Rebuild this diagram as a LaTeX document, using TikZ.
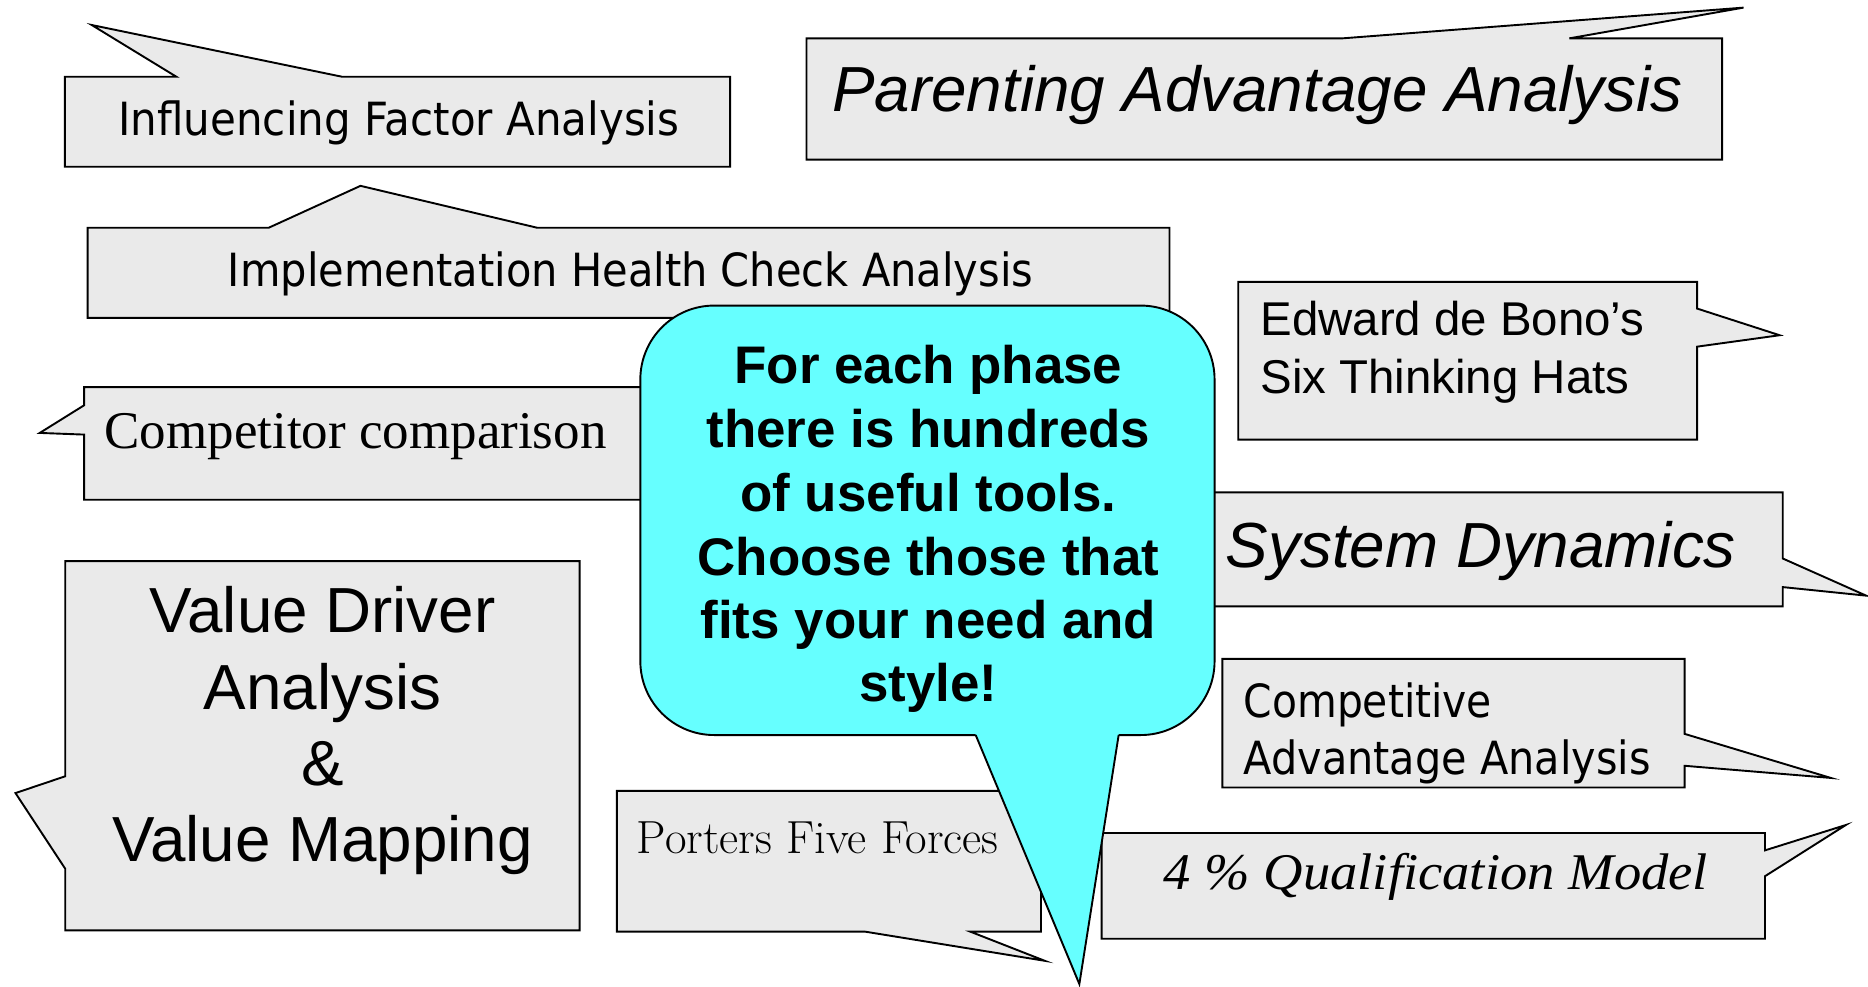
\documentclass[tikz,border=0pt]{standalone}
\usepackage{fontspec}
\usepackage{graphicx}
\newfontfamily\arialf{Liberation Sans}
\newfontfamily\timesf{Liberation Serif}
\newfontfamily\tahomaf{DejaVu Sans}
\newcommand{\hfit}[2]{\resizebox{#1}{\height}{#2}}
\definecolor{boxgray}{RGB}{234,234,234}
\definecolor{calloutcyan}{RGB}{102,255,255}
\tikzset{
  gbox/.style={fill=boxgray, draw=black, line width=0.8pt, line join=miter},
  cfill/.style={fill=calloutcyan, draw=none},
  cline/.style={draw=black, line width=0.8pt, line join=miter},
  lbl/.style={inner sep=0pt, outer sep=0pt, anchor=base west, text=black},
  clbl/.style={inner sep=0pt, outer sep=0pt, anchor=base, text=black},
  tahoma/.style={font=\tahomaf\fontsize{19.2pt}{23pt}\selectfont},
  arialbig/.style={font=\arialf\fontsize{26.75pt}{32pt}\selectfont},
  arialbigit/.style={font=\arialf\itshape\fontsize{26.75pt}{32pt}\selectfont},
  arialmid/.style={font=\arialf\fontsize{19.9pt}{24pt}\selectfont},
  arialbold/.style={font=\arialf\bfseries\fontsize{22.2pt}{27pt}\selectfont},
}
\begin{document}
\begin{tikzpicture}[x=0.5pt,y=-0.5pt]
\useasboundingbox (0,0) rectangle (1568,827.7);

% Influencing Factor Analysis
\draw[gbox] (54.4,64.4) -- (148,64.4) -- (77,21) -- (287,64.4) -- (612.9,64.4)
  -- (612.9,140) -- (54.4,140) -- cycle;
\node[lbl, tahoma] (tifa) at (99.3,113.4) {\hfit{235.5pt}{Influencing Factor Analysis}};

% Parenting Advantage Analysis
\draw[gbox] (677,32.2) -- (1126.8,32.2) -- (1463.5,6.4) -- (1317.3,32.2) -- (1445.5,32.2)
  -- (1445.5,134) -- (677,134) -- cycle;
\node[lbl, arialbigit] (tpaa) at (698.6,93.8) {Parenting Advantage Analysis};

% Implementation Health Check Analysis
\draw[gbox] (73.6,191.2) -- (225.5,191.2) -- (302.6,156) -- (451,191.2) -- (981.7,191.2)
  -- (981.7,266.8) -- (73.6,266.8) -- cycle;
\node[lbl, tahoma] (tihc) at (191.3,240.2) {\hfit{338pt}{Implementation Health Check Analysis}};

% Competitor comparison
\draw[gbox] (70.6,325) -- (700,325) -- (700,419.5) -- (70.6,419.5) -- (70.6,364.8)
  -- (33.4,363.4) -- (70.6,340.2) -- cycle;
\node[lbl, font=\timesf\fontsize{22.25pt}{27pt}\selectfont] (tcc) at (87.7,376.6) {Competitor comparison};

% Edward de Bono
\draw[gbox] (1039.4,236.6) -- (1424.5,236.6) -- (1424.5,259) -- (1493.8,281.4) -- (1424.5,291)
  -- (1424.5,369) -- (1039.4,369) -- cycle;
\node[lbl, arialmid] (tedw1) at (1058,281.3) {Edward de Bono’s};
\node[lbl, arialmid] (tedw2) at (1058,330.2) {Six Thinking Hats};

% System Dynamics
\draw[gbox] (990,413.3) -- (1496.4,413.3) -- (1496.4,468.8) -- (1566.5,500) -- (1496.4,492.8)
  -- (1496.4,509) -- (990,509) -- cycle;
\node[lbl, arialbigit] (tsd) at (1029,476) {System Dynamics};

% Competitive Advantage Analysis
\draw[gbox] (1026,553) -- (1414,553) -- (1414,616) -- (1536.8,653) -- (1414,642.8)
  -- (1414,661) -- (1026,661) -- cycle;
\node[lbl, tahoma] (tcaa1) at (1044,602) {\hfit{104.2pt}{Competitive}};
\node[lbl, tahoma] (tcaa2) at (1044,650) {\hfit{170.8pt}{Advantage Analysis}};

% 4 % Qualification Model
\draw[gbox] (924.7,699.2) -- (1481.5,699.2) -- (1481.5,713.8) -- (1549.4,692.5) -- (1481.5,735.5)
  -- (1481.5,788) -- (924.7,788) -- cycle;
\node[lbl, font=\timesf\itshape\fontsize{21.6pt}{26pt}\selectfont] (tqm) at (976.7,746.6) {\hfit{228.5pt}{4 \% Qualification Model}};

% Value Driver Analysis & Value Mapping
\draw[gbox] (54.8,471) -- (486.5,471) -- (486.5,781) -- (54.8,781) -- (54.8,729.3)
  -- (13,665.7) -- (54.8,651.6) -- cycle;
\node[clbl, arialbig] (tvd1) at (270.8,531) {Value Driver};
\node[clbl, arialbig] (tvd2) at (270.8,595.3) {Analysis};
\node[clbl, arialbig] (tvd3) at (270.8,659) {\&};
\node[clbl, arialbig] (tvd4) at (270.8,723.3) {Value Mapping};

% Porters Five Forces
\draw[gbox] (517.8,663.8) -- (873.8,663.8) -- (873.8,782) -- (814.4,782) -- (877,806.5)
  -- (726,782) -- (517.8,782) -- cycle;
\node[lbl, font=\rmfamily\fontsize{19.5pt}{23pt}\selectfont] (tpff) at (534.6,716.5) {\hfit{151.8pt}{Porters Five Forces}};

% Central callout
\fill[cfill, rounded corners=31pt] (537.5,256.5) rectangle (1019.5,617);
\draw[cline, rounded corners=31pt] (880,617) -- (1019.5,617) -- (1019.5,256.5) -- (537.5,256.5)
  -- (537.5,617) -- (880,617);
\fill[cfill] (819,617) -- (906,826) -- (939,617) -- (939,613) -- (819,613) -- cycle;
\draw[cline] (819,617) -- (906,826) -- (939,617);

\node[clbl, arialbold] (tc1) at (779.3,321.8) {For each phase};
\node[clbl, arialbold] (tc2) at (779.3,375.5) {there is hundreds};
\node[clbl, arialbold] (tc3) at (779.3,429.5) {of useful tools.};
\node[clbl, arialbold] (tc4) at (779.3,482.7) {Choose those that};
\node[clbl, arialbold] (tc5) at (779.3,535.8) {fits your need and};
\node[clbl, arialbold] (tc6) at (779.3,589) {style!};
\end{tikzpicture}
\end{document}
